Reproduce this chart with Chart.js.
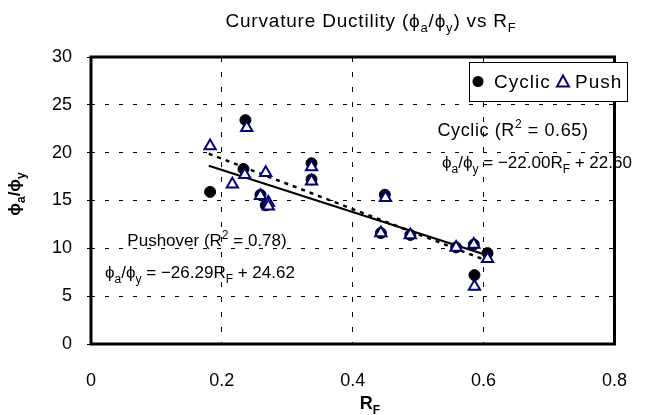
<!DOCTYPE html>
<html>
<head>
<meta charset="utf-8">
<script src="https://cdn.jsdelivr.net/npm/chart.js@4/dist/chart.umd.min.js"></script>
<style>
html,body{margin:0;padding:0;background:#fff;}
#c{display:block;}
</style>
</head>
<body>
<canvas id="c" width="653" height="415"></canvas>
<script>
// ---- data ----
const cyclicX = [0.182, 0.236, 0.233, 0.259, 0.267, 0.337, 0.337, 0.449, 0.443, 0.488, 0.558, 0.585, 0.606, 0.586];
const cyclicY = [15.9, 23.4, 18.3, 15.6, 14.5, 18.9, 17.2, 15.6, 11.6, 11.4, 10.1, 10.4, 9.5, 7.2];
const pushX = [0.182, 0.238, 0.216, 0.235, 0.267, 0.259, 0.271, 0.271, 0.337, 0.337, 0.450, 0.443, 0.488, 0.558, 0.585, 0.606, 0.586];
const pushY = [20.7, 22.6, 16.7, 17.7, 17.9, 15.5, 14.8, 14.4, 18.5, 17.0, 15.3, 11.6, 11.4, 10.1, 10.4, 8.9, 6.0];
// trend line end points
const cyclicFitX = [0.18, 0.61];
const cyclicFitY = [18.64, 9.18];
const pushFitX = [0.18, 0.61];
const pushFitY = [19.89, 8.58];
const xTicks = [0, 0.2, 0.4, 0.6, 0.8];
const yTicks = [0, 5, 10, 15, 20, 25, 30];
const seriesNames = ['Cyclic', 'Push'];

const pts = (xs, ys) => xs.map((x, i) => ({x: x, y: ys[i]}));
const FONT = '"Liberation Sans", Arial, "DejaVu Sans", sans-serif';
const PHI = '\u03d5';

function rich(ctx, parts, x, y, align, size, bold, spacing) {
  const w = bold ? 'bold ' : '';
  const small = Math.round(size * 0.68);
  ctx.letterSpacing = (spacing || 0) + 'px';
  let total = 0;
  const widths = parts.map(p => {
    ctx.font = w + (p[1] ? small : size) + 'px ' + FONT;
    const m = ctx.measureText(p[0]).width;
    total += m;
    return m;
  });
  let cx = align === 'center' ? x - total / 2 : (align === 'right' ? x - total : x);
  ctx.textAlign = 'left';
  ctx.textBaseline = 'alphabetic';
  parts.forEach((p, i) => {
    ctx.font = w + (p[1] ? small : size) + 'px ' + FONT;
    let dy = 0;
    if (p[1] === -1) dy = size * 0.28;
    if (p[1] === 1) dy = -size * 0.42;
    ctx.fillText(p[0], cx, y + dy);
    cx += widths[i];
  });
  ctx.letterSpacing = '0px';
}

const decor = {
  id: 'decor',
  afterDatasetsDraw(chart) {
    const ctx = chart.ctx;
    const a = chart.chartArea;
    ctx.save();
    // frame
    ctx.strokeStyle = '#000';
    ctx.lineWidth = 3;
    ctx.strokeRect(a.left, a.top, a.right - a.left, a.bottom - a.top);
    ctx.fillStyle = '#000';
    // title
    rich(ctx, [['Curvature Ductility (' + PHI, 0], ['a', -1], ['/' + PHI, 0], ['y', -1], [') vs R', 0], ['F', -1]], 371, 27, 'center', 19, false, 0.8);
    // x axis title
    rich(ctx, [['R', 0], ['F', -1]], 370, 409, 'center', 18, true);
    // y axis title
    ctx.save();
    ctx.translate(20, 194);
    ctx.rotate(-Math.PI / 2);
    rich(ctx, [[PHI, 0], ['a', -1], ['/' + PHI, 0], ['y', -1]], 0, 0, 'center', 17, true);
    ctx.restore();
    // annotations
    rich(ctx, [['Cyclic (R', 0], ['2', 1], [' = 0.65)', 0]], 513, 136, 'center', 18, false, 0.6);
    rich(ctx, [[PHI, 0], ['a', -1], ['/' + PHI, 0], ['y', -1], [' = \u221222.00R', 0], ['F', -1], [' + 22.60', 0]], 537, 168, 'center', 17, false);
    rich(ctx, [['Pushover (R', 0], ['2', 1], [' = 0.78)', 0]], 207, 246, 'center', 17, false);
    rich(ctx, [[PHI, 0], ['a', -1], ['/' + PHI, 0], ['y', -1], [' = \u221226.29R', 0], ['F', -1], [' + 24.62', 0]], 200, 278, 'center', 17, false);
    // legend
    const lx = 469, ly = 62, lw = 158, lh = 39;
    ctx.fillStyle = '#fff';
    ctx.fillRect(lx, ly, lw, lh);
    ctx.strokeStyle = '#000';
    ctx.lineWidth = 1;
    ctx.strokeRect(lx + 0.5, ly + 0.5, lw, lh);
    const ds = chart.data.datasets;
    const cy = ly + lh / 2;
    ctx.fillStyle = ds[0].backgroundColor;
    ctx.beginPath();
    ctx.arc(478, cy, 5.5, 0, Math.PI * 2);
    ctx.fill();
    ctx.strokeStyle = ds[1].borderColor;
    ctx.lineWidth = 2;
    ctx.fillStyle = '#fff';
    ctx.beginPath();
    ctx.moveTo(563, cy - 6);
    ctx.lineTo(569, cy + 5);
    ctx.lineTo(557, cy + 5);
    ctx.closePath();
    ctx.fill();
    ctx.stroke();
    ctx.fillStyle = '#000';
    ctx.font = '19px ' + FONT;
    ctx.letterSpacing = '1px';
    ctx.textBaseline = 'middle';
    ctx.textAlign = 'left';
    ctx.fillText(ds[0].label, 494, cy + 1);
    ctx.fillText(ds[1].label, 575, cy + 1);
    ctx.letterSpacing = '0px';
    ctx.restore();
  }
};

new Chart(document.getElementById('c'), {
  type: 'scatter',
  data: {
    datasets: [
      {label: seriesNames[0], data: pts(cyclicX, cyclicY), pointStyle: 'circle', pointRadius: 5.5,
       backgroundColor: '#000', borderColor: '#000', borderWidth: 1, order: 2},
      {label: seriesNames[1], data: pts(pushX, pushY), pointStyle: 'triangle', pointRadius: 6.5,
       backgroundColor: '#fff', borderColor: '#000080', borderWidth: 2, order: 1},
      {label: 'Cyclic fit', data: pts(cyclicFitX, cyclicFitY), showLine: true, pointRadius: 0,
       borderColor: '#000', borderWidth: 2, order: 3},
      {label: 'Push fit', data: pts(pushFitX, pushFitY), showLine: true, pointRadius: 0,
       borderColor: '#000', borderWidth: 2.5, borderDash: [4, 5], order: 4}
    ]
  },
  options: {
    responsive: false,
    animation: false,
    devicePixelRatio: 1,
    layout: {padding: {left: 0, right: 15, top: 57, bottom: 0}},
    plugins: {legend: {display: false}, title: {display: false}, tooltip: {enabled: false}},
    scales: {
      x: {
        type: 'linear', min: 0, max: 0.8,
        afterFit(s) { s.height = 71; },
        afterBuildTicks(s) { s.ticks = xTicks.map(v => ({value: v})); },
        ticks: {color: '#000', font: {family: FONT, size: 18}, padding: 26, maxRotation: 0,
                callback: v => String(v)},
        grid: {color: '#000', lineWidth: 1, drawTicks: false, tickLength: 0},
        border: {display: false, dash: [5, 10]}
      },
      y: {
        type: 'linear', min: 0, max: 30,
        afterFit(s) { s.width = 91; },
        afterBuildTicks(s) { s.ticks = yTicks.map(v => ({value: v})); },
        ticks: {color: '#000', font: {family: FONT, size: 18}, padding: 15},
        grid: {color: '#000', lineWidth: 1, drawTicks: true, tickLength: 4, tickBorderDash: [], tickColor: '#000'},
        border: {display: false, dash: [4, 10]}
      }
    }
  },
  plugins: [decor]
});
</script>
</body>
</html>
